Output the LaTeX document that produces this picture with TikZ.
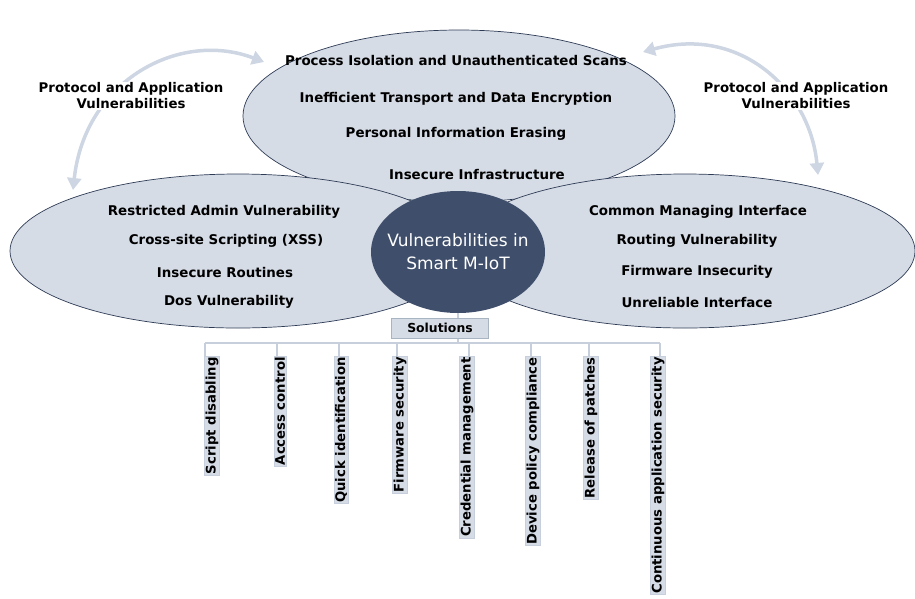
\documentclass[tikz,border=0pt]{standalone}
\usepackage{fontspec}
\setmainfont{DejaVu Sans}
\usetikzlibrary{shapes.geometric,arrows.meta}
\definecolor{pale}{HTML}{D5DCE6}
\definecolor{edgec}{HTML}{2E3B55}
\definecolor{hub}{HTML}{3F4E6A}
\definecolor{arcc}{HTML}{CDD6E2}
\definecolor{wire}{HTML}{C6CFDB}
\definecolor{boxedge}{HTML}{A9B4C2}
\begin{document}
\begin{tikzpicture}[x=1pt,y=-1pt,
  blob/.style={ellipse,draw=edgec,line width=0.7pt,fill=pale,inner sep=0pt},
  item/.style={font=\fontsize{13.4}{15}\selectfont\bfseries,inner sep=0pt},
  sidelbl/.style={font=\fontsize{13.3}{16}\selectfont\bfseries,align=center,fill=white,inner sep=1pt},
  curvearrow/.style={arcc,line width=3.5pt,{Triangle[width=14pt,length=12pt]}-{Triangle[width=14pt,length=12pt]}},
  wireline/.style={wire,line width=1.5pt},
  sol/.style={rotate=90,anchor=east,fill=pale,draw=wire,line width=0.6pt,inner sep=1pt,font=\fontsize{13.2}{14}\selectfont\bfseries}]
\useasboundingbox (0,0) rectangle (915,598);
% curved arrows
\coordinate (la) at (73,190);
\coordinate (lb) at (264,62);
\coordinate (ra) at (643,52);
\coordinate (rb) at (818,175);
\draw[curvearrow] (la) .. controls (85,80) and (180,30) .. (lb);
\draw[curvearrow] (ra) .. controls (740,25) and (810,90) .. (rb);
\node[sidelbl] (ltxt) at (131,96) {Protocol and Application\\Vulnerabilities};
\node[sidelbl] (rtxt) at (796,96) {Protocol and Application\\Vulnerabilities};
% ellipses
\node[blob,minimum width=432pt,minimum height=172pt] (top) at (459,116) {};
\node[blob,minimum width=456pt,minimum height=154pt] (left) at (238,251) {};
\node[blob,minimum width=460pt,minimum height=154pt] (right) at (685,251) {};
\node[ellipse,fill=hub,minimum width=174pt,minimum height=122pt,inner sep=0pt] (hub) at (458,252) {};
\node[font=\fontsize{17}{23}\selectfont,text=white,align=center] (hubtxt) at (458,252) {Vulnerabilities in\\Smart M-IoT};
% top items
\node[item] (t1) at (456,60) {Process Isolation and Unauthenticated Scans};
\node[item] (t2) at (456,99) {Inefficient Transport and Data Encryption};
\node[item] (t3) at (456,134) {Personal Information Erasing};
\node[item] (t4) at (477,174) {Insecure Infrastructure};
% left items
\node[item] (l1) at (224,212) {Restricted Admin Vulnerability};
\node[item] (l2) at (226,241) {Cross-site Scripting (XSS)};
\node[item] (l3) at (225,272) {Insecure Routines};
\node[item] (l4) at (229,302) {Dos Vulnerability};
% right items
\node[item] (r1) at (698,212) {Common Managing Interface};
\node[item] (r2) at (697,241) {Routing Vulnerability};
\node[item] (r3) at (697,272) {Firmware Insecurity};
\node[item] (r4) at (697,302) {Unreliable Interface};
% solutions
\node[fill=pale,draw=boxedge,line width=1pt,minimum width=97pt,minimum height=20pt,inner sep=0pt,font=\fontsize{12.4}{14}\selectfont\bfseries] (solbox) at (440,328) {Solutions};
\draw[wireline] (hub.south) -- (hub.south |- solbox.north);
\coordinate (bar) at (458,343);
\draw[wireline] (solbox.south -| bar) -- (bar);
\node[sol] (s1) at (212,356) {Script disabling};
\node[sol] (s2) at (280,356) {Access control};
\node[sol] (s3) at (341,356) {Quick identification};
\node[sol] (s4) at (400,356) {Firmware security};
\node[sol] (s5) at (467,356) {Credential management};
\node[sol] (s6) at (533,356) {Device policy compliance};
\node[sol] (s7) at (591,356) {Release of patches};
\node[sol] (s8) at (658,356) {Continuous application security};
\foreach \i/\dx in {1/205,2/277,3/339,4/397,5/469,6/531,7/589,8/660}{
  \coordinate (d\i) at (\dx,343);
  \draw[wireline] (d\i) -- (d\i |- s\i.east);}
\draw[wireline] (d1) -- (d8);
\end{tikzpicture}
\end{document}
